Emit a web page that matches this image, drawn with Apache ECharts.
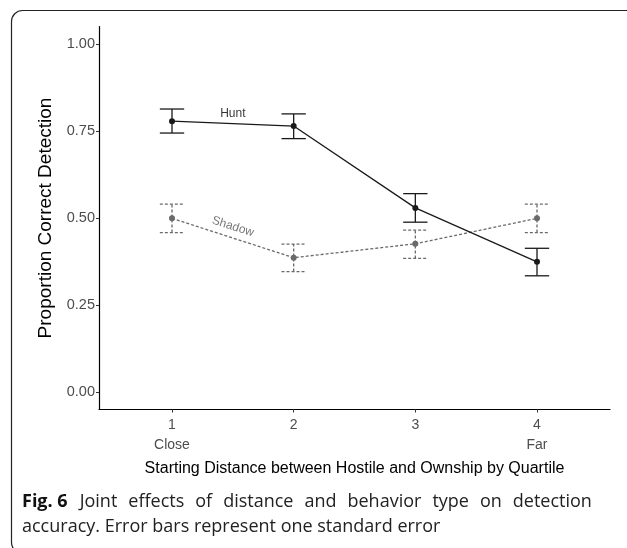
<!DOCTYPE html>
<html>
<head>
<meta charset="utf-8">
<script src="https://cdn.jsdelivr.net/npm/echarts@6/dist/echarts.min.js"></script>
<style>
html,body{margin:0;padding:0;background:#fff;}
#c{width:627px;height:548px;}
</style>
</head>
<body>
<div id="c"></div>
<script>
// ---- data ----
const quartiles = [1, 2, 3, 4];
const xTickLabels = ['1\nClose', '2', '3', '4\nFar'];
const yTicks = [0, 0.25, 0.5, 0.75, 1.0];
const huntMean = [0.778, 0.764, 0.529, 0.374];
const huntLow  = [0.744, 0.728, 0.488, 0.334];
const huntHigh = [0.813, 0.799, 0.570, 0.413];
const shadowMean = [0.499, 0.386, 0.426, 0.499];
const shadowLow  = [0.458, 0.346, 0.384, 0.458];
const shadowHigh = [0.540, 0.425, 0.465, 0.540];
const huntLabelPos = [1.5, 0.80];
const shadowLabelPos = [1.5, 0.475];
const captionLine1 = 'Joint effects of distance and behavior type on detection';
const captionLine2 = 'accuracy. Error bars represent one standard error';

const chart = echarts.init(document.getElementById('c'));

function errRender(color, dash) {
  return function (params, api) {
    const x = api.value(0);
    const lo = api.coord([x, api.value(1)]);
    const hi = api.coord([x, api.value(2)]);
    const hw = api.size([0.1, 0])[0];
    const style = { stroke: color, lineWidth: 1.3, lineDash: dash, fill: null };
    return {
      type: 'group',
      children: [
        { type: 'line', shape: { x1: lo[0], y1: lo[1], x2: hi[0], y2: hi[1] }, style: style },
        { type: 'line', shape: { x1: lo[0] - hw, y1: lo[1], x2: lo[0] + hw, y2: lo[1] }, style: style },
        { type: 'line', shape: { x1: hi[0] - hw, y1: hi[1], x2: hi[0] + hw, y2: hi[1] }, style: style }
      ]
    };
  };
}

const font = 'Liberation Sans, Arial, Helvetica, sans-serif';
const capFont = 'Open Sans';
const capSize = 18;
// justified first caption line: fixed-width word gaps
const line1Rich = '{b|Fig. 6}{g| }' + captionLine1.split(' ').join('{s| }');

chart.setOption({
  animation: false,
  backgroundColor: '#fff',
  grid: { left: 99, right: 17, top: 26.5, bottom: 138.5 },
  xAxis: {
    type: 'value', min: 0.4, max: 4.6,
    name: 'Starting Distance between Hostile and Ownship by Quartile',
    nameLocation: 'middle', nameGap: 50,
    nameTextStyle: { fontFamily: font, fontSize: 16, color: '#000' },
    axisLine: { show: true, onZero: false, lineStyle: { color: '#000', width: 1.2 } },
    axisTick: { show: true, customValues: quartiles, length: 3, lineStyle: { color: '#333' } },
    axisLabel: {
      customValues: quartiles, margin: 6,
      formatter: function (v) { return xTickLabels[quartiles.indexOf(Math.round(v))]; },
      fontFamily: font, fontSize: 14, color: '#4d4d4d', lineHeight: 20
    },
    splitLine: { show: false }
  },
  yAxis: {
    type: 'value', min: -0.05, max: 1.05,
    name: 'Proportion Correct Detection',
    nameLocation: 'middle', nameGap: 44,
    nameTextStyle: { fontFamily: font, fontSize: 19, color: '#000' },
    axisLine: { show: true, onZero: false, lineStyle: { color: '#000', width: 1.2 } },
    axisTick: { show: true, customValues: yTicks, length: 3, lineStyle: { color: '#333' } },
    axisLabel: {
      customValues: yTicks, margin: 4,
      formatter: function (v) { return v.toFixed(2); },
      fontFamily: font, fontSize: 14.5, color: '#4d4d4d'
    },
    splitLine: { show: false }
  },
  series: [
    {
      type: 'custom', renderItem: errRender('#6a6a6a', [3, 2]),
      data: quartiles.map((q, i) => [q, shadowLow[i], shadowHigh[i]]), z: 2
    },
    {
      type: 'line', data: quartiles.map((q, i) => [q, shadowMean[i]]),
      symbol: 'circle', symbolSize: 6,
      lineStyle: { color: '#6a6a6a', width: 1.3, type: [3, 2] },
      itemStyle: { color: '#6a6a6a' }, z: 3
    },
    {
      type: 'custom', renderItem: errRender('#1a1a1a', null),
      data: quartiles.map((q, i) => [q, huntLow[i], huntHigh[i]]), z: 4
    },
    {
      type: 'line', data: quartiles.map((q, i) => [q, huntMean[i]]),
      symbol: 'circle', symbolSize: 6,
      lineStyle: { color: '#1a1a1a', width: 1.3 },
      itemStyle: { color: '#1a1a1a' }, z: 5
    },
    {
      type: 'scatter', symbolSize: 0, data: [huntLabelPos], silent: true,
      label: { show: true, position: 'inside', formatter: 'Hunt',
        fontFamily: font, fontSize: 12, color: '#000' }
    },
    {
      type: 'scatter', symbolSize: 0, data: [shadowLabelPos], silent: true,
      label: { show: true, position: 'inside', formatter: 'Shadow', rotate: -17.5,
        fontFamily: font, fontSize: 12, color: '#555' }
    }
  ],
  graphic: [
    {
      type: 'rect', shape: { x: 11.5, y: 10.5, width: 640, height: 543, r: 11 },
      style: { fill: null, stroke: '#222', lineWidth: 1.2 }, silent: true
    },
    {
      type: 'text', left: 22, top: 493,
      style: {
        text: line1Rich,
        rich: {
          b: { fontWeight: 'bold', fontFamily: capFont, fontSize: capSize, fill: '#111' },
          g: { width: 12, fontFamily: capFont, fontSize: capSize },
          s: { width: 11, fontFamily: capFont, fontSize: capSize }
        },
        fontFamily: capFont, fontSize: capSize, fill: '#222'
      }
    },
    {
      type: 'text', left: 22, top: 518,
      style: {
        text: captionLine2,
        fontFamily: capFont, fontSize: capSize, fill: '#222'
      }
    }
  ]
});
</script>
</body>
</html>
